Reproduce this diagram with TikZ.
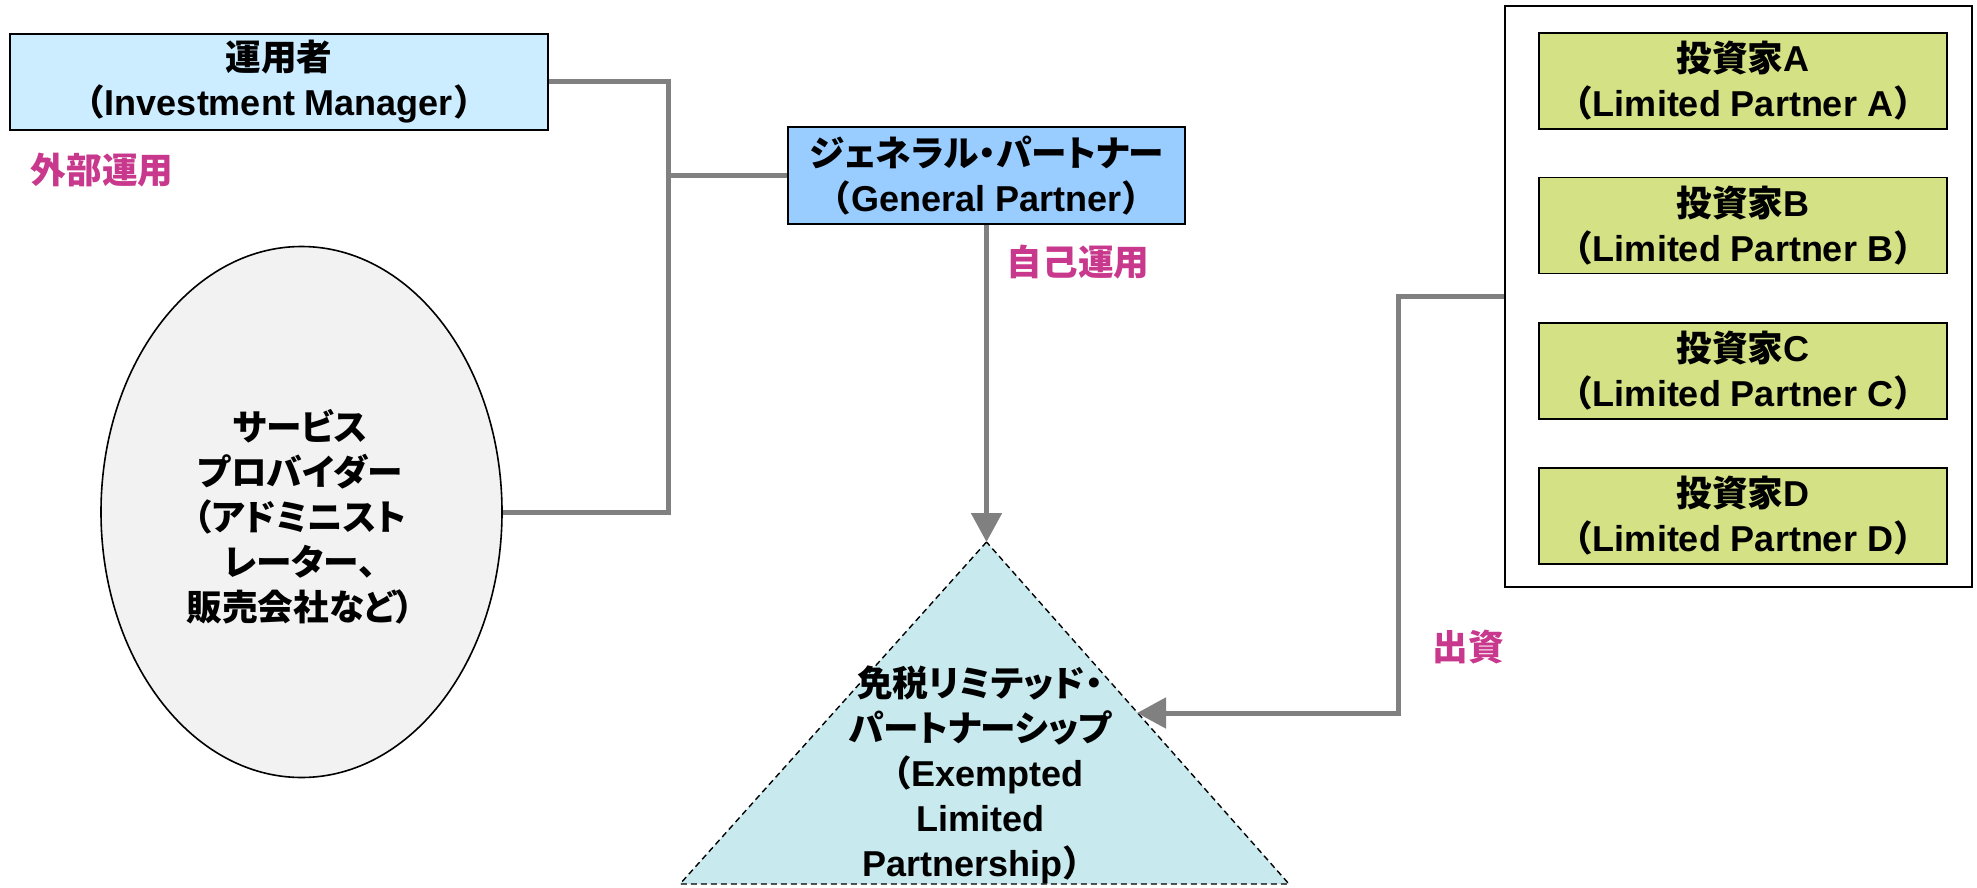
\documentclass[tikz,border=0pt]{standalone}
\usepackage{fontspec}
\setmainfont{Liberation Sans}
\newfontfamily\jpf{Noto Sans CJK JP}[Scale=0.99,RawFeature=+palt]
\newfontfamily\jpw{Noto Sans CJK JP}[Scale=0.99]
\newcommand\jpt[1]{{\jpf #1}}
\newcommand\lpar{{\jpw （}}
\newcommand\rpar{{\jpw ）}}
\usetikzlibrary{shapes.geometric,arrows.meta}
\definecolor{conngray}{HTML}{808080}
\definecolor{imblue}{HTML}{CCECFF}
\definecolor{gpblue}{HTML}{99CCFF}
\definecolor{lpgreen}{HTML}{D4E184}
\definecolor{elpcyan}{HTML}{C8EAEE}
\definecolor{spgray}{HTML}{F2F2F2}
\definecolor{lblmag}{HTML}{C8388C}
\begin{document}
\begin{tikzpicture}[x=1pt,y=-1pt,
  txt/.style={font=\bfseries\fontsize{36}{45}\selectfont, align=center},
  boxnode/.style={txt, draw=black, line width=1.6pt, inner sep=0pt, rectangle},
  conn/.style={draw=conngray, line width=5pt},
  arr/.style={conn, -{Triangle[length=29pt,width=30pt]}},
  lbl/.style={font=\bfseries\fontsize{36}{45}\selectfont, text=lblmag, inner sep=0pt}]
\useasboundingbox (0,0) rectangle (1977,888);

% investment manager
\node[boxnode, fill=imblue, minimum width=538pt, minimum height=96pt] (IM) at (279,82)
  {\jpt{運用者}\\\lpar Investment Manager\rpar};
\node[lbl] (lblext) at (102,170) {\jpt{外部運用}};

% general partner
\node[boxnode, fill=gpblue, minimum width=397pt, minimum height=97pt] (GP) at (986.5,175.5)
  {\jpt{ジェネラル・パートナー}\\\lpar General Partner\rpar};
\node[lbl] (lblself) at (1078,262) {\jpt{自己運用}};

% service provider
\node[txt, ellipse, draw=black, line width=1.6pt, fill=spgray, inner sep=0pt,
  minimum width=401pt, minimum height=531pt] (SP) at (301.5,512) {};
\node[txt, inner sep=0pt] (SPtext) at (300,517)
  {\jpt{サービス}\\\jpt{プロバイダー}\\\jpt{（アドミニスト}\\\jpt{レーター、}\\\jpt{販売会社など）}};

% investors
\node[draw=black, line width=2pt, minimum width=467pt, minimum height=581pt, inner sep=0pt] (LPs) at (1738.5,296.5) {};
\node[boxnode, fill=lpgreen, minimum width=408pt, minimum height=96pt] (LPA) at (1743,81)
  {\jpt{投資家}A\\\lpar Limited Partner A\rpar};
\node[boxnode, fill=lpgreen, minimum width=408pt, minimum height=96pt] (LPB) at (1743,225.5)
  {\jpt{投資家}B\\\lpar Limited Partner B\rpar};
\node[boxnode, fill=lpgreen, minimum width=408pt, minimum height=96pt] (LPC) at (1743,371)
  {\jpt{投資家}C\\\lpar Limited Partner C\rpar};
\node[boxnode, fill=lpgreen, minimum width=408pt, minimum height=96pt] (LPD) at (1743,516)
  {\jpt{投資家}D\\\lpar Limited Partner D\rpar};
\node[lbl] (lblinv) at (1468,647) {\jpt{出資}};

% exempted limited partnership (triangle)
\coordinate (apex) at (986.5,542);
\coordinate (baseL) at (680,884);
\coordinate (baseR) at (1289,884);
\draw[fill=elpcyan, draw=black, line width=1.4pt, dash pattern=on 6pt off 4pt]
  (apex) -- (baseL) -- (baseR) -- cycle;
\node[txt, inner sep=0pt] (ELP) at (980,775)
  {\jpt{免税リミテッド・}\\\jpt{パートナーシップ}\\\lpar Exempted\\Limited\\Partnership\rpar};
\coordinate (elpR) at (1137,713);

% connectors
\coordinate (busB) at (668,512);
\draw[conn] (IM.east) -| (busB) -- (SP.east);
\draw[conn] (GP.west) -- (GP.west -| busB);
\draw[arr] (GP.south) -- (apex);
\coordinate (bend) at (1398,713);
\draw[arr] (LPs.west) -| (bend) -- (elpR);
\end{tikzpicture}
\end{document}
